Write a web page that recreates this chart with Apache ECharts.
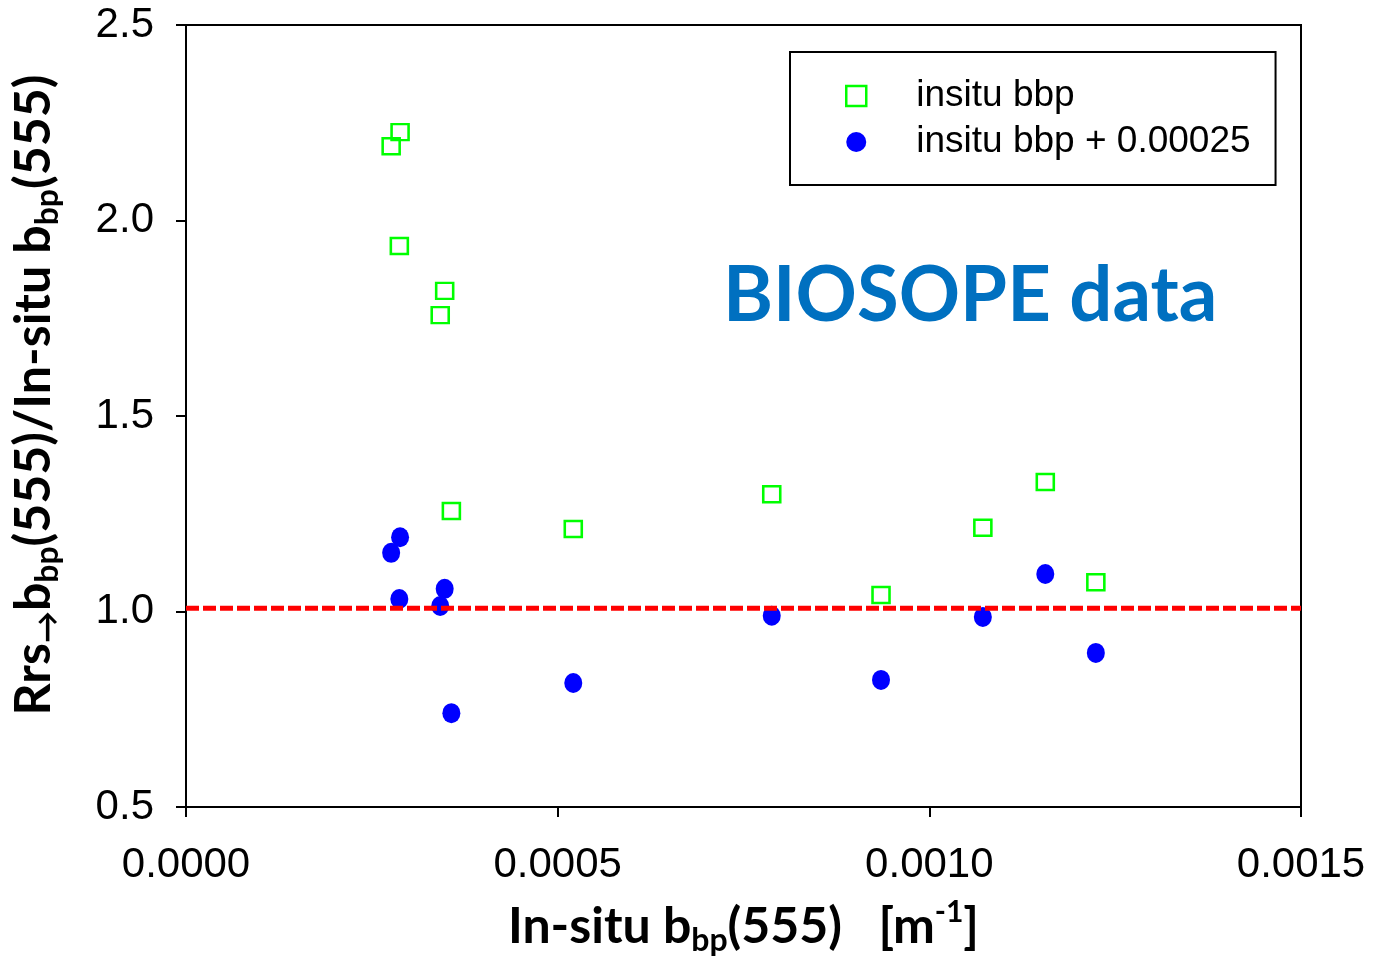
<!DOCTYPE html>
<html><head><meta charset="utf-8">
<script src="https://cdn.jsdelivr.net/npm/echarts@6/dist/echarts.min.js"></script>
<style>html,body{margin:0;padding:0;background:#fff}#c{width:1374px;height:960px}</style>
</head><body><div id="c"></div>
<script>
const xInsitu = [0.000276, 0.000288, 0.000287, 0.000348, 0.000342, 0.000357, 0.000521, 0.000788, 0.000935, 0.001072, 0.001156, 0.001224];
const ratioInsitu = [2.190, 2.226, 1.935, 1.820, 1.758, 1.257, 1.211, 1.300, 1.042, 1.214, 1.331, 1.075];
const ratioPlus = [1.150, 1.190, 1.032, 1.058, 1.014, 0.740, 0.817, 0.989, 0.825, 0.986, 1.096, 0.894];
const seriesNames = ['insitu bbp', 'insitu bbp + 0.00025'];
const refLineX = [0, 0.0015];
const refLineY = [1.008, 1.008];
const xTicks = ['0.0000', '0.0005', '0.0010', '0.0015'];
const yTicks = ['0.5', '1.0', '1.5', '2.0', '2.5'];

const chart = echarts.init(document.getElementById('c'), null, {renderer: 'canvas'});
const titleFont = 'Lato, "Open Sans", sans-serif';
const option = {
  animation: false,
  backgroundColor: '#ffffff',
  grid: {left: 186, top: 25, right: 73, bottom: 153, containLabel: false, outerBoundsMode: 'none',
    show: true, borderColor: '#000', borderWidth: 2, backgroundColor: 'transparent'},
  xAxis: {
    type: 'value', min: 0, max: 0.0015, interval: 0.0005,
    axisLine: {lineStyle: {color: '#000', width: 2}},
    axisTick: {show: true, length: 10, lineStyle: {color: '#000', width: 2}},
    splitLine: {show: false},
    axisLabel: {color: '#000', fontSize: 42, fontFamily: '"Liberation Sans", Arial, sans-serif', margin: 37,
      formatter: (v) => xTicks[Math.round(v / 0.0005)]},
    name: '{n|In-situ b}{sub|bp}{n|(555)   [m}{sup|-1}{n|]}',
    nameLocation: 'middle', nameGap: 90,
    nameTextStyle: {
      rich: {
        n: {fontSize: 50, fontWeight: 'bold', fontFamily: titleFont, color: '#000', lineHeight: 60},
        sub: {fontSize: 32, fontWeight: 'bold', fontFamily: titleFont, color: '#000', lineHeight: 20, verticalAlign: 'bottom'},
        sup: {fontSize: 30, fontWeight: 'bold', fontFamily: titleFont, color: '#000', lineHeight: 38, verticalAlign: 'top'}
      }
    }
  },
  yAxis: {
    type: 'value', min: 0.5, max: 2.5, interval: 0.5,
    axisLine: {show: true, lineStyle: {color: '#000', width: 2}},
    axisTick: {show: true, length: 10, lineStyle: {color: '#000', width: 2}},
    splitLine: {show: false},
    axisLabel: {color: '#000', fontSize: 42, fontFamily: '"Liberation Sans", Arial, sans-serif', margin: 32,
      formatter: (v) => yTicks[Math.round((v - 0.5) / 0.5)]},
    name: '{n|Rrs}{sub|→}{n|b}{sub|bp}{n|(555)/In-situ b}{sub|bp}{n|(555)}',
    nameLocation: 'middle', nameGap: 122, nameRotate: 90,
    nameTextStyle: {
      padding: [0, 0, 0, 42],
      rich: {
        n: {fontSize: 50, fontWeight: 'bold', fontFamily: titleFont, color: '#000', lineHeight: 60},
        sub: {fontSize: 32, fontWeight: 'bold', fontFamily: titleFont, color: '#000', lineHeight: 20, verticalAlign: 'bottom'}
      }
    }
  },
  legend: {
    orient: 'vertical', left: 790, top: 52,
    padding: [21, 25, 20, 55],
    itemGap: 0, itemWidth: 20, itemHeight: 20,
    borderColor: '#000', borderWidth: 2, backgroundColor: '#fff',
    textStyle: {fontSize: 37, color: '#000', fontFamily: '"Liberation Sans", Arial, sans-serif', lineHeight: 40, padding: [6, 0, 0, 45]},
    data: [
      {name: seriesNames[0], icon: 'rect', itemStyle: {color: 'rgba(0,0,0,0)', borderColor: '#00ff00', borderWidth: 2.5}},
      {name: seriesNames[1], icon: 'circle', itemStyle: {color: '#0000ff'}}
    ]
  },
  graphic: [
    {type: 'text', left: 723, top: 258, style: {text: 'BIOSOPE data', fontSize: 76, fontWeight: 'bold', fontFamily: titleFont, fill: '#0070c0'}}
  ],
  series: [
    {
      name: 'ref', type: 'line', data: refLineX.map((x, i) => [x, refLineY[i]]),
      symbol: 'none', lineStyle: {color: '#ff0000', width: 5, type: [13, 4]}, z: 3, silent: true
    },
    {
      name: seriesNames[0], type: 'scatter', symbol: 'rect', symbolSize: [17, 16],
      data: xInsitu.map((x, i) => [x, ratioInsitu[i]]),
      itemStyle: {color: 'rgba(0,0,0,0)', borderColor: '#00ff00', borderWidth: 2.5, opacity: 1}, z: 4
    },
    {
      name: seriesNames[1], type: 'scatter', symbol: 'circle', symbolSize: [18, 20],
      data: xInsitu.map((x, i) => [x, ratioPlus[i]]),
      itemStyle: {color: '#0000ff', opacity: 1}, z: 2
    }
  ]
};
chart.setOption(option);
</script></body></html>
